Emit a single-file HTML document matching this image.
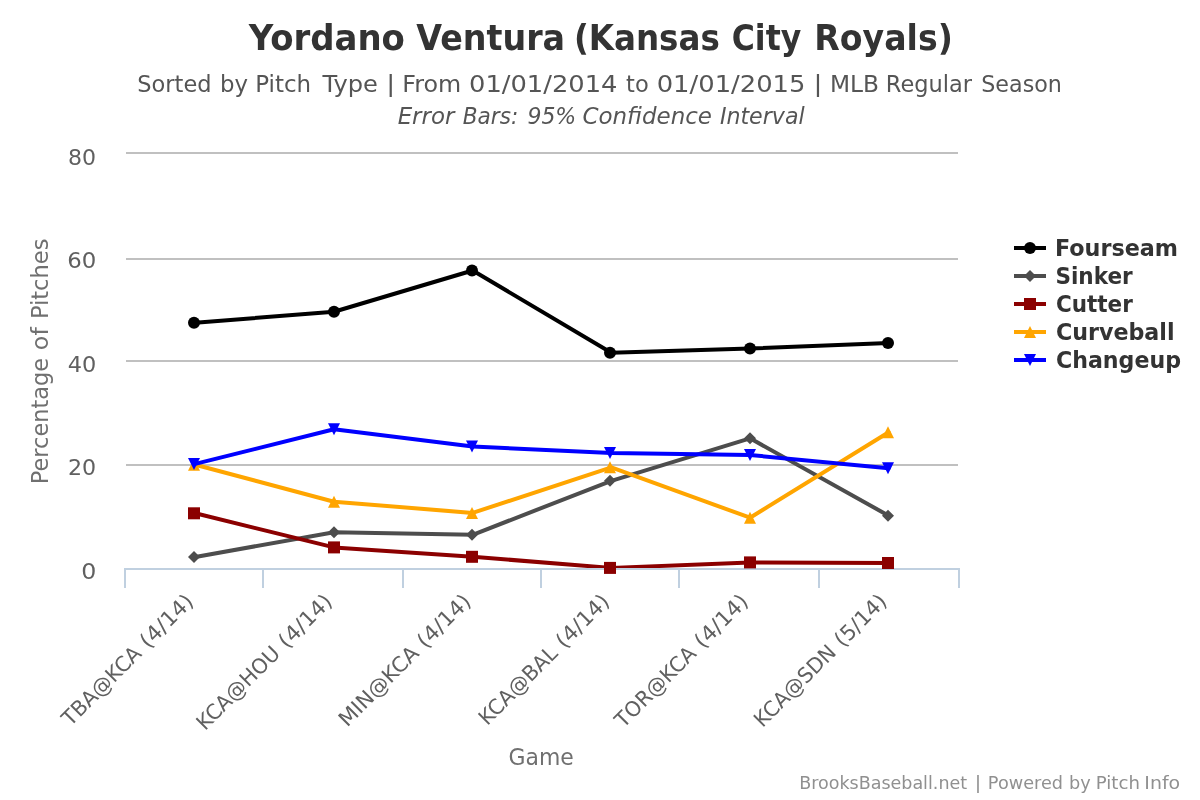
<!DOCTYPE html>
<html lang="en"><head><meta charset="utf-8"><title>Yordano Ventura (Kansas City Royals)</title>
<style>html,body{margin:0;padding:0;background:#fff;}body{width:1200px;height:800px;overflow:hidden;}svg{display:block;}text{font-family:"DejaVu Sans","Liberation Sans",sans-serif;white-space:pre;}</style></head><body>
<svg width="1200" height="800" viewBox="0 0 1200 800">
<rect x="0" y="0" width="1200" height="800" fill="#ffffff"/>
<g fill="#C0C0C0" shape-rendering="crispEdges">
<rect x="126" y="152" width="832" height="2"/>
<rect x="126" y="258" width="832" height="2"/>
<rect x="126" y="360" width="832" height="2"/>
<rect x="126" y="464" width="832" height="2"/>
</g>
<g fill="#C0D0E0" shape-rendering="crispEdges">
<rect x="124" y="568" width="836" height="2"/>
<rect x="124" y="568" width="2" height="20"/>
<rect x="262" y="568" width="2" height="20"/>
<rect x="402" y="568" width="2" height="20"/>
<rect x="540" y="568" width="2" height="20"/>
<rect x="678" y="568" width="2" height="20"/>
<rect x="818" y="568" width="2" height="20"/>
<rect x="958" y="568" width="2" height="20"/>
</g>
<defs><clipPath id="plotclip"><rect x="126" y="152" width="832" height="416"/></clipPath></defs>
<g clip-path="url(#plotclip)"><polyline points="195.33,322.75 334.00,311.75 472.67,270.50 611.33,352.75 750.00,348.50 888.67,343.00" fill="none" stroke="#000000" stroke-width="4" stroke-linejoin="round" stroke-linecap="round"/></g>
<g><circle cx="194" cy="322.75" r="6" fill="#000000"/><circle cx="334" cy="311.75" r="6" fill="#000000"/><circle cx="472" cy="270.5" r="6" fill="#000000"/><circle cx="610" cy="352.75" r="6" fill="#000000"/><circle cx="750" cy="348.5" r="6" fill="#000000"/><circle cx="888" cy="343" r="6" fill="#000000"/></g>
<g clip-path="url(#plotclip)"><polyline points="195.33,557.00 334.00,532.20 472.67,534.80 611.33,480.80 750.00,438.30 888.67,515.70" fill="none" stroke="#4D4D4D" stroke-width="4" stroke-linejoin="round" stroke-linecap="round"/></g>
<g><path d="M194 551L200 557L194 563L188 557Z" fill="#4D4D4D"/><path d="M334 526.2L340 532.2L334 538.2L328 532.2Z" fill="#4D4D4D"/><path d="M472 528.8L478 534.8L472 540.8L466 534.8Z" fill="#4D4D4D"/><path d="M610 474.8L616 480.8L610 486.8L604 480.8Z" fill="#4D4D4D"/><path d="M750 432.3L756 438.3L750 444.3L744 438.3Z" fill="#4D4D4D"/><path d="M888 509.7L894 515.7L888 521.7L882 515.7Z" fill="#4D4D4D"/></g>
<g clip-path="url(#plotclip)"><polyline points="195.33,513.30 334.00,547.40 472.67,556.80 611.33,567.90 750.00,562.40 888.67,563.00" fill="none" stroke="#8B0000" stroke-width="4" stroke-linejoin="round" stroke-linecap="round"/></g>
<g><rect x="188" y="507.3" width="12" height="12" fill="#8B0000"/><rect x="328" y="541.4" width="12" height="12" fill="#8B0000"/><rect x="466" y="550.8" width="12" height="12" fill="#8B0000"/><rect x="604" y="561.9" width="12" height="12" fill="#8B0000"/><rect x="744" y="556.4" width="12" height="12" fill="#8B0000"/><rect x="882" y="557" width="12" height="12" fill="#8B0000"/></g>
<g clip-path="url(#plotclip)"><polyline points="195.33,464.75 334.00,501.70 472.67,512.90 611.33,467.30 750.00,517.70 888.67,432.30" fill="none" stroke="#FFA500" stroke-width="4" stroke-linejoin="round" stroke-linecap="round"/></g>
<g><path d="M194 458.75L200 470.75L188 470.75Z" fill="#FFA500"/><path d="M334 495.7L340 507.7L328 507.7Z" fill="#FFA500"/><path d="M472 506.9L478 518.9L466 518.9Z" fill="#FFA500"/><path d="M610 461.3L616 473.3L604 473.3Z" fill="#FFA500"/><path d="M750 511.7L756 523.7L744 523.7Z" fill="#FFA500"/><path d="M888 426.3L894 438.3L882 438.3Z" fill="#FFA500"/></g>
<g clip-path="url(#plotclip)"><polyline points="195.33,463.90 334.00,429.30 472.67,446.50 611.33,453.00 750.00,455.00 888.67,468.30" fill="none" stroke="#0000FF" stroke-width="4" stroke-linejoin="round" stroke-linecap="round"/></g>
<g><path d="M188 457.9L200 457.9L194 469.9Z" fill="#0000FF"/><path d="M328 423.3L340 423.3L334 435.3Z" fill="#0000FF"/><path d="M466 440.5L478 440.5L472 452.5Z" fill="#0000FF"/><path d="M604 447L616 447L610 459Z" fill="#0000FF"/><path d="M744 449L756 449L750 461Z" fill="#0000FF"/><path d="M882 462.3L894 462.3L888 474.3Z" fill="#0000FF"/></g>
<path d="M1014 248L1046 248" stroke="#000000" stroke-width="4" fill="none"/>
<circle cx="1030" cy="248" r="6" fill="#000000"/>
<path d="M1014 276L1046 276" stroke="#4D4D4D" stroke-width="4" fill="none"/>
<path d="M1030 270L1036 276L1030 282L1024 276Z" fill="#4D4D4D"/>
<path d="M1014 304L1046 304" stroke="#8B0000" stroke-width="4" fill="none"/>
<rect x="1024" y="298" width="12" height="12" fill="#8B0000"/>
<path d="M1014 332L1046 332" stroke="#FFA500" stroke-width="4" fill="none"/>
<path d="M1030 326L1036 338L1024 338Z" fill="#FFA500"/>
<path d="M1014 360L1046 360" stroke="#0000FF" stroke-width="4" fill="none"/>
<path d="M1024 354L1036 354L1030 366Z" fill="#0000FF"/>
<text class="title" font-size="36" font-weight="bold" fill="#333333"><tspan x="248.73" y="50.00" textLength="156.23" lengthAdjust="spacingAndGlyphs">Yordano</tspan> <tspan x="416.24" y="50.00" textLength="148.88" lengthAdjust="spacingAndGlyphs">Ventura</tspan> <tspan x="573.90" y="50.00" textLength="145.94" lengthAdjust="spacingAndGlyphs">(Kansas</tspan> <tspan x="731.73" y="50.00" textLength="69.54" lengthAdjust="spacingAndGlyphs">City</tspan> <tspan x="814.26" y="50.00" textLength="138.59" lengthAdjust="spacingAndGlyphs">Royals)</tspan></text>
<text class="subtitle" font-size="23.5"  fill="#555555"><tspan x="137.32" y="92.00" textLength="74.23" lengthAdjust="spacingAndGlyphs">Sorted</tspan> <tspan x="219.92" y="92.00" textLength="28.06" lengthAdjust="spacingAndGlyphs">by</tspan> <tspan x="255.25" y="92.00" textLength="55.90" lengthAdjust="spacingAndGlyphs">Pitch</tspan> <tspan x="322.57" y="92.00" textLength="55.41" lengthAdjust="spacingAndGlyphs">Type</tspan> <tspan x="386.24" y="92.00" textLength="8.93" lengthAdjust="spacingAndGlyphs">|</tspan> <tspan x="402.26" y="92.00" textLength="58.96" lengthAdjust="spacingAndGlyphs">From</tspan> <tspan x="469.00" y="92.00" textLength="148.44" lengthAdjust="spacingAndGlyphs">01/01/2014</tspan> <tspan x="626.09" y="92.00" textLength="22.64" lengthAdjust="spacingAndGlyphs">to</tspan> <tspan x="656.70" y="92.00" textLength="148.76" lengthAdjust="spacingAndGlyphs">01/01/2015</tspan> <tspan x="813.54" y="92.00" textLength="8.93" lengthAdjust="spacingAndGlyphs">|</tspan> <tspan x="829.91" y="92.00" textLength="49.03" lengthAdjust="spacingAndGlyphs">MLB</tspan> <tspan x="885.79" y="92.00" textLength="86.21" lengthAdjust="spacingAndGlyphs">Regular</tspan> <tspan x="981.24" y="92.00" textLength="80.65" lengthAdjust="spacingAndGlyphs">Season</tspan></text>
<text class="subtitle-note" font-size="23.5" font-style="oblique" fill="#555555"><tspan x="397.63" y="124.00" textLength="56.78" lengthAdjust="spacingAndGlyphs">Error</tspan> <tspan x="462.72" y="124.00" textLength="55.53" lengthAdjust="spacingAndGlyphs">Bars:</tspan> <tspan x="527.43" y="124.00" textLength="48.82" lengthAdjust="spacingAndGlyphs">95%</tspan> <tspan x="582.43" y="124.00" textLength="129.59" lengthAdjust="spacingAndGlyphs">Confidence</tspan> <tspan x="719.91" y="124.00" textLength="84.70" lengthAdjust="spacingAndGlyphs">Interval</tspan></text>
<text class="yaxis-label" font-size="21.6"  fill="#606060"><tspan x="68.10" y="164.80" textLength="28.06" lengthAdjust="spacingAndGlyphs">80</tspan></text>
<text class="yaxis-label" font-size="21.6"  fill="#606060"><tspan x="67.16" y="268.00" textLength="29.06" lengthAdjust="spacingAndGlyphs">60</tspan></text>
<text class="yaxis-label" font-size="21.6"  fill="#606060"><tspan x="67.66" y="372.00" textLength="28.53" lengthAdjust="spacingAndGlyphs">40</tspan></text>
<text class="yaxis-label" font-size="21.6"  fill="#606060"><tspan x="67.98" y="475.00" textLength="28.19" lengthAdjust="spacingAndGlyphs">20</tspan></text>
<text class="yaxis-label" font-size="21.6"  fill="#606060"><tspan x="81.19" y="578.80" textLength="15.09" lengthAdjust="spacingAndGlyphs">0</tspan></text>
<g transform="translate(48 482) rotate(-90)"><text class="yaxis-title" font-size="23.5"  fill="#707070"><tspan x="-2.20" y="0.00" textLength="126.30" lengthAdjust="spacingAndGlyphs">Percentage</tspan> <tspan x="131.89" y="0.00" textLength="22.86" lengthAdjust="spacingAndGlyphs">of</tspan> <tspan x="162.88" y="0.00" textLength="80.62" lengthAdjust="spacingAndGlyphs">Pitches</tspan></text></g>
<g transform="translate(195.33 602.2) rotate(-45)"><text class="xaxis-label" font-size="21"  fill="#606060"><tspan x="-176.51" y="0.00" textLength="102.27" lengthAdjust="spacingAndGlyphs">TBA@KCA</tspan> <tspan x="-66.68" y="0.00" textLength="66.05" lengthAdjust="spacingAndGlyphs">(4/14)</tspan></text></g>
<g transform="translate(334.0 602.2) rotate(-45)"><text class="xaxis-label" font-size="21"  fill="#606060"><tspan x="-182.60" y="0.00" textLength="108.25" lengthAdjust="spacingAndGlyphs">KCA@HOU</tspan> <tspan x="-66.68" y="0.00" textLength="66.05" lengthAdjust="spacingAndGlyphs">(4/14)</tspan></text></g>
<g transform="translate(472.67 602.2) rotate(-45)"><text class="xaxis-label" font-size="21"  fill="#606060"><tspan x="-177.42" y="0.00" textLength="103.28" lengthAdjust="spacingAndGlyphs">MIN@KCA</tspan> <tspan x="-66.68" y="0.00" textLength="66.05" lengthAdjust="spacingAndGlyphs">(4/14)</tspan></text></g>
<g transform="translate(611.33 602.2) rotate(-45)"><text class="xaxis-label" font-size="21"  fill="#606060"><tspan x="-175.32" y="0.00" textLength="101.16" lengthAdjust="spacingAndGlyphs">KCA@BAL</tspan> <tspan x="-66.68" y="0.00" textLength="66.05" lengthAdjust="spacingAndGlyphs">(4/14)</tspan></text></g>
<g transform="translate(750.0 602.2) rotate(-45)"><text class="xaxis-label" font-size="21"  fill="#606060"><tspan x="-178.88" y="0.00" textLength="104.57" lengthAdjust="spacingAndGlyphs">TOR@KCA</tspan> <tspan x="-66.68" y="0.00" textLength="66.05" lengthAdjust="spacingAndGlyphs">(4/14)</tspan></text></g>
<g transform="translate(888.67 602.2) rotate(-45)"><text class="xaxis-label" font-size="21"  fill="#606060"><tspan x="-178.32" y="0.00" textLength="105.80" lengthAdjust="spacingAndGlyphs">KCA@SDN</tspan> <tspan x="-64.82" y="0.00" textLength="64.14" lengthAdjust="spacingAndGlyphs">(5/14)</tspan></text></g>
<text class="xaxis-title" font-size="23.5"  fill="#707070"><tspan x="508.57" y="764.70" textLength="65.30" lengthAdjust="spacingAndGlyphs">Game</tspan></text>
<text class="credits" font-size="17.6"  fill="#909090"><tspan x="799.13" y="789.30" textLength="168.04" lengthAdjust="spacingAndGlyphs">BrooksBaseball.net</tspan> <tspan x="974.75" y="789.30" textLength="6.49" lengthAdjust="spacingAndGlyphs">|</tspan> <tspan x="987.87" y="789.30" textLength="75.14" lengthAdjust="spacingAndGlyphs">Powered</tspan> <tspan x="1069.04" y="789.30" textLength="21.74" lengthAdjust="spacingAndGlyphs">by</tspan> <tspan x="1095.82" y="789.30" textLength="44.12" lengthAdjust="spacingAndGlyphs">Pitch</tspan> <tspan x="1144.39" y="789.30" textLength="35.84" lengthAdjust="spacingAndGlyphs">Info</tspan></text>
<text class="legend-item" font-size="23" font-weight="bold" fill="#333333"><tspan x="1054.95" y="255.70" textLength="123.11" lengthAdjust="spacingAndGlyphs">Fourseam</tspan></text>
<text class="legend-item" font-size="23" font-weight="bold" fill="#333333"><tspan x="1055.45" y="283.50" textLength="77.31" lengthAdjust="spacingAndGlyphs">Sinker</tspan></text>
<text class="legend-item" font-size="23" font-weight="bold" fill="#333333"><tspan x="1055.93" y="311.60" textLength="76.83" lengthAdjust="spacingAndGlyphs">Cutter</tspan></text>
<text class="legend-item" font-size="23" font-weight="bold" fill="#333333"><tspan x="1055.89" y="339.60" textLength="118.67" lengthAdjust="spacingAndGlyphs">Curveball</tspan></text>
<text class="legend-item" font-size="23" font-weight="bold" fill="#333333"><tspan x="1055.90" y="367.60" textLength="125.10" lengthAdjust="spacingAndGlyphs">Changeup</tspan></text>
</svg></body></html>
